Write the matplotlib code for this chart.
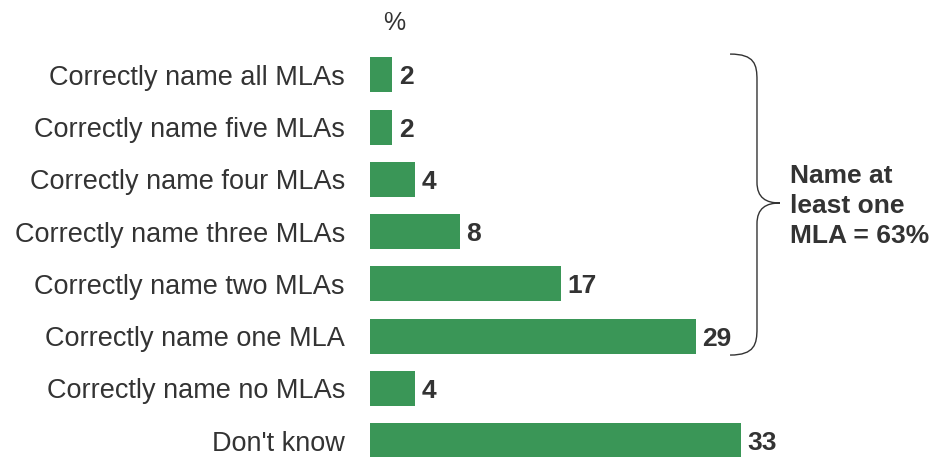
import matplotlib.pyplot as plt
from matplotlib.path import Path
from matplotlib.patches import PathPatch

plt.rcParams['font.family'] = ['Liberation Sans', 'DejaVu Sans']

# Data
categories = ['Correctly name all MLAs', 'Correctly name five MLAs',
              'Correctly name four MLAs', 'Correctly name three MLAs',
              'Correctly name two MLAs', 'Correctly name one MLA',
              'Correctly name no MLAs', "Don't know"]
values = [2, 2, 4, 8, 17, 29, 4, 33]
brace_label = 'Name at\nleast one\nMLA = 63%'

bar_color = '#3a9657'
text_color = '#333333'

fig = plt.figure(figsize=(9.33, 4.57), dpi=100)
ax = fig.add_axes([370 / 933, 0, 563 / 933, 1])

y = range(len(categories))
ax.barh(y, values, height=0.67, color=bar_color)

for i, v in enumerate(values):
    ax.text(v + 0.6, i, str(v), va='center_baseline', ha='left', fontsize=19,
            fontweight='bold', color=text_color)

ax.set_xlim(0, 563 / 11.23)
ax.set_ylim(7.311, -1.435)
ax.set_yticks(list(y))
ax.set_yticklabels(categories, fontsize=19.5, color=text_color)
ax.tick_params(axis='y', length=0, pad=18)
ax.set_xticks([])
for s in ax.spines.values():
    s.set_visible(False)

# "%" header
ax.text(2.14, -1.0, '%', ha='center', va='center', fontsize=18,
        color=text_color)

# Curly brace spanning the "named at least one" rows
xa, xb, xc = 32.06, 34.46, 36.5
verts = [(xa, -0.40), (xb - 0.2, -0.40), (xb, -0.2), (xb, 0.1),
         (xb, 2.05),
         (xb, 2.35), (xb + 0.8, 2.45), (xc, 2.45),
         (xb + 0.8, 2.45), (xb, 2.55), (xb, 2.85),
         (xb, 4.85),
         (xb, 5.15), (xb - 0.2, 5.36), (xa, 5.36)]
codes = [Path.MOVETO, Path.CURVE4, Path.CURVE4, Path.CURVE4,
         Path.LINETO,
         Path.CURVE4, Path.CURVE4, Path.CURVE4,
         Path.CURVE4, Path.CURVE4, Path.CURVE4,
         Path.LINETO,
         Path.CURVE4, Path.CURVE4, Path.CURVE4]
brace = PathPatch(Path(verts, codes), facecolor='none', edgecolor='#333333',
                  linewidth=1.0, clip_on=False)
ax.add_patch(brace)

ax.text(37.4, 2.5, brace_label, ha='left', va='center', fontsize=19,
        fontweight='bold', color=text_color, linespacing=1.32)

fig.savefig('out.png', dpi=100)
